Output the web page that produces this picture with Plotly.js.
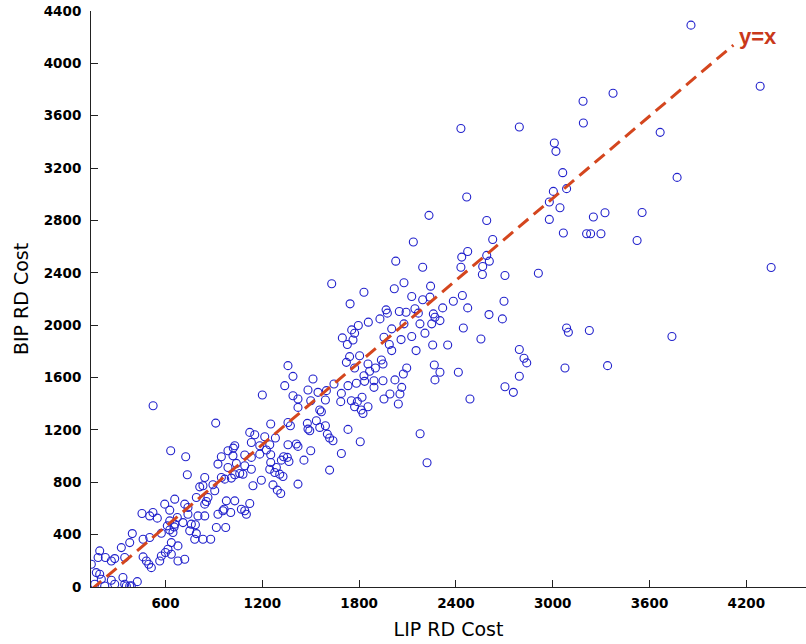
<!DOCTYPE html>
<html>
<head>
<meta charset="utf-8">
<script src="https://cdn.plot.ly/plotly-3.0.1.min.js"></script>
<style>html,body{margin:0;padding:0;background:#fff;}#chart{width:806px;height:644px;}</style>
</head>
<body>
<div id="chart"></div>
<script>
// LIP RD Cost (x) vs BIP RD Cost (y)
const lipCost = [
1696,1762,1727,1772,1954,1741,1803,1721,1772,1855,1865,1901,1938,1948,1830,1834,1783,1731,1892,1892,1948,1954,
1359,1390,1514,1339,1483,1545,1597,1390,1421,1500,1591,1644,1690,1686,1752,1789,1818,1855,1772,1813,1824,1200,523,
1421,1556,1566,1252,1359,1374,1479,1535,1591,1556,1494,1483,1603,1731,1617,1638,1807,1690,911,
1122,1153,1215,1281,1359,1411,1421,1132,1184,1246,1225,632,725,1029,1020,987,946,1018,1091,1132,1184,1252,1332,1355,1365,1318,1500,1458,
925,987,1039,1091,1132,1060,1080,1029,946,967,1008,1194,1246,1252,1287,1277,1308,1328,1266,1293,1314,1421,1142,1617,
735,843,812,832,595,657,719,739,791,853,843,863,894,905,963,977,1029,1070,1091,1122,1101,925,1004,956,
454,502,522,549,626,626,611,657,673,708,739,760,785,801,843,750,791,781,832,880,915,973,
394,378,461,502,574,626,646,653,636,677,615,599,574,564,636,677,719,
326,192,182,227,264,285,347,461,481,496,512,140,171,192,202,264,336,347,357,378,425,388,285,223,161,
2431,2793,3190,3010,3020,3062,3004,3086,2979,3045,2979,3066,3252,3324,3210,3235,3299,2467,2233,2591,2628,2136,
2027,2194,2436,2473,2431,2566,2591,2607,2564,2704,2911,1630,1830,2018,2078,2243,2126,2194,2239,2384,2440,2473,2318,2698,2605,2688,
1744,1929,1967,1975,2049,2091,2146,2167,2260,2270,2301,2250,2177,2078,2002,1857,1795,1754,
2446,2555,2349,2256,2153,2060,1987,2002,2126,2208,3086,3097,3227,2095,2074,2022,1991,2053,2064,2043,
2266,2301,2270,2415,2487,2793,2822,2839,2793,2704,2756,3076,3340,
3857,4286,4354,3771,3666,3554,3523,3739,3374,3188,2221,2178
];
const bipCost = [
1903,1887,1852,1938,1908,1760,1767,1716,1673,1704,1648,1673,1734,1704,1614,1571,1556,1538,1576,1525,1576,1436,
1691,1609,1589,1538,1505,1487,1500,1461,1436,1423,1428,1551,1479,1416,1423,1416,1449,1377,1377,1352,1326,1467,1385,
1372,1352,1339,1245,1257,1232,1250,1270,1232,1219,1194,1206,1168,1204,1138,1117,1110,1020,1252,
1181,1163,1148,1138,1087,1092,1074,1104,1079,1087,1046,1041,995,1079,1061,1041,995,1002,1008,990,1015,1010,995,990,959,969,1041,969,
939,913,944,926,900,867,862,857,837,824,832,816,900,951,913,875,862,844,780,740,714,786,773,893,
857,837,765,773,633,671,633,607,684,653,633,684,781,735,594,658,658,594,582,638,556,556,569,582,
561,543,569,526,587,505,467,480,531,492,556,480,475,543,543,429,408,365,365,365,454,454,
408,339,365,378,411,436,416,459,339,314,288,263,237,199,250,199,212,
301,276,225,225,199,217,225,230,199,174,148,174,110,97,59,51,72,21,8,8,41,10,21,8,21,
3502,3514,3545,3392,3328,3165,3022,3043,2941,2897,2808,2704,2826,2859,2698,2698,2698,2979,2839,2800,2655,2635,
2489,2443,2520,2563,2443,2448,2533,2489,2387,2380,2397,2316,2252,2278,2324,2298,2219,2194,2214,2183,2227,2132,2132,2183,2081,2048,
2163,2048,2117,2092,2104,2099,2125,2092,2086,2061,2035,2010,2010,2010,1972,2023,1997,1964,
1979,1895,1849,1849,1806,1890,1852,1806,1913,1939,1979,1946,1959,1673,1627,1582,1474,1474,1525,1398,
1696,1640,1582,1640,1436,1814,1747,1712,1610,1530,1487,1673,1691,
4292,3825,2441,3129,3473,2861,2647,1913,3772,3711,949,1171
];
// dashed reference line endpoints as they appear in the picture
const refX = [140, 4120];
const refY = [-20, 4140];
const refLabel = "y=x";
const xTicks = [600, 1200, 1800, 2400, 3000, 3600, 4200];
const yTicks = [0, 400, 800, 1200, 1600, 2000, 2400, 2800, 3200, 3600, 4000, 4400];
const xTitle = "LIP RD Cost";
const yTitle = "BIP RD Cost";

const traces = [
  {
    x: lipCost, y: bipCost, type: "scatter", mode: "markers",
    marker: {symbol: "circle-open", size: 8, color: "#2222cc", line: {width: 1.1, color: "#2222cc"}},
    hoverinfo: "x+y", showlegend: false
  },
  {
    x: refX, y: refY, type: "scatter", mode: "lines",
    line: {color: "#d4461e", width: 3, dash: "13px,7px"},
    hoverinfo: "skip", showlegend: false
  }
];

const tickFont = {family: "DejaVu Sans, Liberation Sans, sans-serif", size: 13.5, color: "#000", weight: "bold"};
const layout = {
  width: 806, height: 644,
  margin: {l: 91, r: 0, t: 11, b: 57, pad: 0},
  paper_bgcolor: "#fff", plot_bgcolor: "#fff",
  showlegend: false,
  xaxis: {
    range: [138, 4570], tickvals: xTicks, ticktext: xTicks.map(String),
    showgrid: false, zeroline: false, showline: true, linecolor: "#222", linewidth: 1,
    ticks: "inside", ticklen: 7, tickwidth: 1, tickcolor: "#222",
    tickfont: tickFont, ticklabelstandoff: 4,
    title: {text: xTitle, font: {family: "DejaVu Sans, Liberation Sans, sans-serif", size: 19, color: "#000"}, standoff: 12},
    automargin: false
  },
  yaxis: {
    range: [0, 4400], tickvals: yTicks, ticktext: yTicks.map(String),
    showgrid: false, zeroline: false, showline: true, linecolor: "#222", linewidth: 1,
    ticks: "inside", ticklen: 7, tickwidth: 1, tickcolor: "#222",
    tickfont: tickFont, ticklabelstandoff: 6,
    title: {text: yTitle, font: {family: "DejaVu Sans, Liberation Sans, sans-serif", size: 19, color: "#000"}, standoff: 10},
    automargin: false
  },
  annotations: [{
    x: 4272, y: 4208, xref: "x", yref: "y", text: refLabel, showarrow: false,
    xanchor: "center", yanchor: "middle",
    font: {family: "Liberation Sans, Arial, sans-serif", size: 22, color: "#c9381a", weight: "bold"}
  }]
};

Plotly.newPlot("chart", traces, layout, {displayModeBar: false, staticPlot: true});
</script>
</body>
</html>
